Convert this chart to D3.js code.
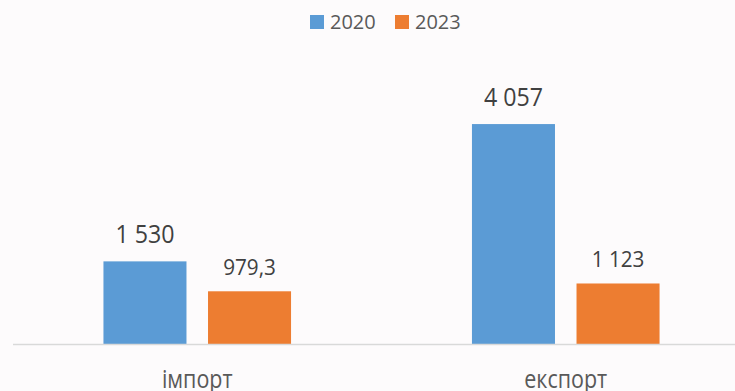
<!DOCTYPE html>
<html>
<head>
<meta charset="utf-8">
<script src="https://cdn.jsdelivr.net/npm/d3@7"></script>
<style>
  html, body { margin: 0; padding: 0; background: #fdfbfc; }
  svg { display: block; font-family: "Open Sans", sans-serif; }
</style>
</head>
<body>
<svg id="chart" width="735" height="391"></svg>
<script>
// Data
const categories = ["імпорт", "експорт"];
const years = ["2020", "2023"];
const values2020 = [1530, 4057];
const values2023 = [979.3, 1123];
const valueLabels2020 = ["1 530", "4 057"];
const valueLabels2023 = ["979,3", "1 123"];

const colors = { "2020": "#5b9bd5", "2023": "#ed7d31" };
const seriesValues = { "2020": values2020, "2023": values2023 };
const seriesLabels = { "2020": valueLabels2020, "2023": valueLabels2023 };

const svg = d3.select("#chart");
const W = 735, H = 391;
svg.append("rect").attr("width", W).attr("height", H).attr("fill", "#fdfbfc");

const baseY = 344.5;
const x = d3.scaleBand().domain(categories).range([13, 750]).padding(0);
const xSub = d3.scaleBand().domain(years).range([0, x.bandwidth()])
  .paddingInner(0.206).paddingOuter(0.865);
const y = d3.scaleLinear().domain([0, 4500]).range([baseY, 100]);

// Bars and value labels
years.forEach((yr, si) => {
  const g = svg.append("g");
  categories.forEach((cat, ci) => {
    const v = seriesValues[yr][ci];
    const bx = x(cat) + xSub(yr);
    g.append("rect")
      .attr("x", bx)
      .attr("y", y(v))
      .attr("width", xSub.bandwidth())
      .attr("height", baseY - y(v))
      .attr("fill", colors[yr]);
    const lx = bx + xSub.bandwidth() / 2;
    const ly = y(v) - (si === 0 ? 18 : 16.5);
    g.append("text")
      .attr("transform", `translate(${lx},${ly}) scale(1,${si === 0 ? 1.07 : 1.03})`)
      .attr("text-anchor", "middle")
      .attr("font-size", si === 0 ? 23.2 : 20.7)
      .attr("fill", "#404040")
      .text(seriesLabels[yr][ci]);
  });
});

// Category axis
const axis = svg.append("g").attr("transform", `translate(0,${baseY})`)
  .call(d3.axisBottom(x).tickSize(0).tickPadding(0));
axis.select(".domain").attr("stroke", "#d9d9d9").attr("stroke-width", 1.5)
  .attr("d", `M13,0H735`);
axis.selectAll(".tick text")
  .attr("dy", 0).attr("y", 0)
  .attr("transform", "translate(0,43.5) scale(1,1.18)")
  .attr("font-size", 21.5)
  .attr("font-family", "Open Sans, sans-serif")
  .attr("fill", "#595959");

// Legend
const legend = svg.append("g");
const legendItems = [{ key: "2020", x: 310 }, { key: "2023", x: 395 }];
legendItems.forEach(d => {
  legend.append("rect").attr("x", d.x).attr("y", 15).attr("width", 14).attr("height", 14)
    .attr("fill", colors[d.key]);
  legend.append("text").attr("x", d.x + 20).attr("y", 29.3)
    .attr("font-size", 20).attr("fill", "#595959").text(d.key);
});
</script>
</body>
</html>
